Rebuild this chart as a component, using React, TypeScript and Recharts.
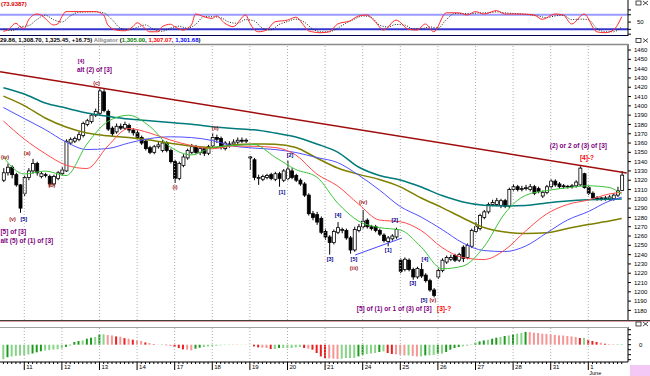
import {
  Bar,
  Cell,
  ComposedChart,
  Line,
  ReferenceDot,
  ReferenceLine,
  XAxis,
  YAxis,
} from "recharts";

const FONT = "'Liberation Sans', Arial, sans-serif";
const X_DOMAIN: [number, number] = [-0.81, 149.5];

// one trading day = 9 bars, first full day starts at bar 5
const dayLabels = ["11", "12", "13", "14", "17", "18", "19", "20", "21", "24", "25", "26", "27", "28", "31", "1"];
const dayStarts = dayLabels.map((_, k) => 5 + k * 9);

const priceTicks = [
  1180, 1190, 1200, 1210, 1220, 1230, 1240, 1250, 1260, 1270, 1280, 1290, 1300, 1310, 1320,
  1330, 1340, 1350, 1360, 1370, 1380, 1390, 1400, 1410, 1420, 1430, 1440, 1450, 1460,
];

// open, high, low, close
const candles: number[][] = [
  // prior day
  [1320, 1333, 1318, 1328], [1328, 1338, 1325, 1334], [1334, 1336, 1322, 1326], [1326, 1328, 1313, 1315],
  [1315, 1316, 1285, 1290],
  // 11
  [1306, 1325, 1303, 1323], [1323, 1333, 1320, 1330], [1330, 1343, 1327, 1338], [1338, 1340, 1325, 1328],
  [1324, 1329, 1322, 1327], [1326, 1328, 1323, 1325], [1324, 1326, 1313, 1316], [1316, 1326, 1314, 1324],
  [1322, 1330, 1320, 1328],
  // 12
  [1327, 1334, 1325, 1331], [1330, 1364, 1329, 1362], [1360, 1366, 1358, 1364], [1362, 1367, 1360, 1365],
  [1364, 1372, 1362, 1369], [1368, 1383, 1366, 1381], [1380, 1386, 1378, 1384], [1383, 1392, 1381, 1390],
  [1390, 1397, 1388, 1394],
  // 13
  [1392, 1419, 1390, 1416], [1415, 1418, 1393, 1395], [1394, 1396, 1373, 1375], [1376, 1378, 1367, 1370],
  [1372, 1381, 1370, 1378], [1378, 1381, 1374, 1376], [1376, 1383, 1374, 1380], [1379, 1381, 1371, 1374],
  [1374, 1376, 1368, 1371],
  // 14
  [1371, 1374, 1364, 1366], [1366, 1368, 1358, 1360], [1362, 1364, 1352, 1354], [1355, 1357, 1348, 1350],
  [1350, 1358, 1348, 1356], [1356, 1361, 1354, 1358], [1352, 1363, 1350, 1360], [1360, 1362, 1350, 1352],
  [1352, 1354, 1338, 1340],
  // 17
  [1340, 1342, 1317, 1322], [1322, 1340, 1320, 1338], [1336, 1348, 1334, 1345], [1344, 1354, 1342, 1352],
  [1350, 1359, 1348, 1356], [1356, 1358, 1348, 1350], [1350, 1356, 1347, 1354], [1354, 1356, 1346, 1349],
  [1349, 1358, 1347, 1356],
  // 18
  [1357, 1371, 1355, 1366], [1366, 1369, 1360, 1364], [1365, 1367, 1353, 1356], [1354, 1362, 1352, 1360],
  [1358, 1362, 1355, 1359], [1359, 1364, 1357, 1361], [1361, 1366, 1359, 1363], [1363, 1366, 1360, 1362],
  [1362, 1365, 1360, 1363],
  // 19
  [1345, 1346, 1331, 1344], [1342, 1344, 1320, 1323], [1322, 1326, 1315, 1323], [1321, 1326, 1319, 1324],
  [1323, 1327, 1321, 1325], [1326, 1328, 1320, 1322], [1321, 1329, 1319, 1327], [1327, 1329, 1313, 1322],
  [1320, 1332, 1318, 1330],
  // 20
  [1322, 1341, 1320, 1332], [1330, 1333, 1321, 1323], [1325, 1327, 1318, 1320], [1320, 1322, 1314, 1316],
  [1316, 1318, 1302, 1304], [1304, 1306, 1282, 1284], [1284, 1287, 1277, 1280], [1283, 1286, 1272, 1275],
  [1279, 1281, 1262, 1264],
  // 21
  [1265, 1268, 1256, 1259], [1259, 1261, 1240, 1253], [1253, 1267, 1251, 1265], [1264, 1275, 1262, 1269],
  [1266, 1269, 1263, 1267], [1266, 1268, 1256, 1258], [1258, 1260, 1241, 1245], [1245, 1270, 1243, 1267],
  [1266, 1273, 1264, 1270],
  // 24
  [1270, 1288, 1268, 1276], [1277, 1279, 1268, 1270], [1270, 1272, 1266, 1268], [1270, 1272, 1264, 1266],
  [1266, 1268, 1260, 1262], [1261, 1263, 1253, 1255], [1254, 1260, 1249, 1258], [1257, 1262, 1255, 1260],
  [1259, 1269, 1257, 1267],
  // 25
  [1234, 1236, 1220, 1222], [1224, 1237, 1222, 1235], [1234, 1236, 1222, 1224], [1224, 1226, 1213, 1216],
  [1216, 1227, 1214, 1225], [1224, 1231, 1215, 1217], [1218, 1220, 1210, 1212], [1212, 1214, 1200, 1202],
  [1202, 1204, 1194, 1196],
  // 26
  [1216, 1225, 1214, 1223], [1223, 1236, 1221, 1234], [1232, 1239, 1230, 1237], [1235, 1240, 1233, 1237],
  [1239, 1241, 1232, 1234], [1234, 1242, 1232, 1240], [1248, 1250, 1232, 1236], [1237, 1252, 1235, 1250],
  [1249, 1268, 1247, 1266],
  // 27
  [1265, 1275, 1263, 1270], [1268, 1284, 1266, 1282], [1280, 1288, 1278, 1286], [1286, 1296, 1284, 1294],
  [1294, 1299, 1292, 1296], [1294, 1301, 1292, 1298], [1293, 1300, 1290, 1298], [1298, 1300, 1290, 1292],
  [1292, 1312, 1290, 1310],
  // 28
  [1310, 1316, 1308, 1313], [1313, 1315, 1308, 1310], [1310, 1314, 1308, 1311], [1311, 1315, 1309, 1312],
  [1310, 1316, 1308, 1313], [1313, 1315, 1304, 1306], [1311, 1313, 1306, 1308], [1303, 1309, 1301, 1307],
  [1307, 1315, 1305, 1313],
  // 31
  [1313, 1321, 1311, 1319], [1319, 1321, 1313, 1315], [1316, 1318, 1311, 1313], [1314, 1316, 1311, 1313],
  [1313, 1315, 1311, 1313.5], [1313, 1316, 1311, 1314], [1314, 1320, 1312, 1318], [1315, 1335, 1314, 1333],
  [1327, 1328, 1311, 1312],
  // 1 June
  [1312, 1314, 1304, 1306], [1306, 1308, 1299, 1301], [1301, 1303, 1298, 1300], [1300, 1302, 1298, 1301],
  [1300, 1303, 1298, 1301], [1300, 1304, 1298, 1302], [1300, 1306, 1298, 1304], [1304, 1313, 1302, 1308.7],
  [1309, 1329.86, 1308.7, 1325.45],
];

// oscillator histogram, one value per bar
const osc = [
  -14.5, -12.5, -11.8, -11.2, -10.8,
  -10.5, -9.8, -8.8, -7.6, -6.6, -5.8, -5.4, -4.9, -4.5,
  -3.7, -2.2, -0.6, 2.7, 3.7, 4.3, 6, 7, 7.7,
  10.3, 10.4, 9.7, 9.3, 8.3, 8, 6.6, 6, 5,
  4.3, 3.7, 2.3, 1.7, 0.5, 0.2, 0.5, -0.5, -1.3,
  -2.3, -3.3, -4.7, -5, -5.7, -4, -3, -2.3, -1.7,
  -1.3, -1, -0.6, -0.4, -0.3, 0.3, -0.3, 0.2, -0.2,
  0.3, -1.7, -2.7, -3, -3.3, -4.3, -4.3, -3.3, -3.3,
  -3.3, -3.3, -2.7, -2.3, -3.3, -4, -5, -8.3, -11.7,
  -13.3, -13.7, -14, -14.3, -14, -13.3, -13.3, -13.2, -11.7,
  -10, -9.3, -8.8, -8.3, -7.3, -6.7, -8.3, -9.3, -9.7,
  -10, -10.7, -10.7, -11.2, -11.7, -11.7, -10.7, -10.6, -10.3,
  -9, -8.9, -7.3, -5, -3.3, -2.3, -1.7, -1, 0.2,
  2, 3.3, 4.3, 5, 6, 7, 7.7, 8.7, 9.3,
  10.3, 11, 11.7, 12.8, 12.6, 12, 11.7, 11, 10.8,
  10.3, 9.7, 9.3, 9.2, 8.7, 8.3, 7.7, 6.7, 6.8,
  5, 3.7, 2.7, 2, 1, 0.6, 0.5, 0.55, 0.6,
];

// moving averages read every 5 bars
const maIdx = [0, 5, 10, 15, 20, 25, 30, 35, 40, 45, 50, 55, 60, 65, 70, 75, 80, 85, 90, 95, 100, 105, 110, 115, 120, 125, 130, 135, 140, 145, 148];
const lips = [1344.9, 1326.7, 1329.9, 1325, 1358.9, 1383.1, 1389.9, 1378, 1355.7, 1347.3, 1355.2, 1357.3, 1358.4, 1344.9, 1331.5, 1323.4, 1295.5, 1276.1, 1269.1, 1266.5, 1248.2, 1224.8, 1227.7, 1248.2, 1284.2, 1303.8, 1308.8, 1311.9, 1314, 1312.2, 1305];
const teeth = [1383.7, 1364.3, 1348.7, 1336.3, 1332.6, 1356.8, 1375.6, 1370.8, 1363.2, 1357.3, 1353.8, 1356.8, 1356.5, 1355.2, 1347.1, 1326.7, 1313.8, 1294.4, 1277.2, 1275.4, 1265.9, 1247.6, 1236.9, 1234.7, 1245, 1265.4, 1283.7, 1293.9, 1298.7, 1305.2, 1307.07];
const jaw = [1398.2, 1386.3, 1374.5, 1361.1, 1353, 1354.1, 1360, 1364.8, 1366.7, 1365.9, 1362.7, 1356.8, 1354.6, 1353, 1349.8, 1344.4, 1339, 1325.6, 1309.5, 1291.7, 1280.4, 1267, 1252.5, 1244.4, 1243.3, 1249.2, 1263.2, 1277.2, 1286.3, 1297.6, 1301.68];
const tealMa = [1419.5, 1412.7, 1403, 1397.6, 1392.3, 1388.8, 1385.8, 1383.9, 1382, 1380.2, 1377.6, 1375.7, 1374.2, 1370.8, 1366.5, 1359, 1350.3, 1334.2, 1325.1, 1320.2, 1312.7, 1303.5, 1296.6, 1293.1, 1292.3, 1292.8, 1295.5, 1297.6, 1298.9, 1299.6, 1299.8];
const oliveMa = [1410.5, 1400.3, 1386.9, 1377.2, 1370.8, 1367.8, 1365.9, 1363.2, 1359.7, 1356.8, 1355.2, 1357.8, 1358.9, 1358.7, 1355.2, 1343.9, 1333.1, 1326.3, 1320.8, 1312.9, 1300.9, 1290.6, 1279.4, 1269.1, 1264.3, 1262.7, 1263.4, 1268.1, 1272.4, 1276.1, 1278.8];

// stochastic [bar, value]
const stochK: [number, number][] = [
  [0, 12], [1, 17], [3, 45], [4, 31], [5, 24], [6, 58], [8, 83], [9, 79], [10, 65], [12, 38], [13, 42], [14, 72],
  [15, 93], [18, 93], [22, 93], [24, 79], [25, 38], [27, 17], [29, 14], [31, 31], [32, 47], [33, 38], [35, 10],
  [37, 10], [38, 31], [40, 41], [41, 31], [43, 17], [45, 38], [46, 83], [48, 72], [50, 65], [51, 75], [53, 45],
  [55, 31], [58, 79], [59, 45], [61, 10], [63, 17], [65, 51], [68, 58], [70, 70], [72, 34], [73, 14], [76, 6],
  [78, 10], [80, 42], [83, 55], [85, 75], [87, 79], [89, 51], [91, 17], [94, 58], [97, 20], [99, 17], [101, 42],
  [103, 10], [106, 88], [109, 88], [111, 79], [113, 93], [115, 83], [118, 97], [120, 83], [124, 83], [127, 79],
  [129, 61], [132, 83], [134, 79], [136, 42], [139, 83], [142, 10], [144, 6], [146, 17], [148, 72],
];
const stochD: [number, number][] = [
  [0, 20], [2, 15], [4, 30], [6, 35], [8, 60], [10, 78], [12, 60], [14, 50], [16, 75], [18, 90], [22, 92],
  [24, 88], [26, 60], [28, 25], [30, 18], [32, 28], [34, 38], [36, 20], [38, 12], [40, 25], [42, 33], [44, 25],
  [46, 40], [48, 72], [50, 72], [52, 68], [54, 50], [56, 45], [58, 60], [60, 55], [62, 25], [64, 18], [66, 40],
  [68, 52], [70, 62], [72, 50], [74, 22], [76, 10], [78, 10], [80, 25], [82, 45], [84, 62], [86, 75], [88, 70],
  [90, 38], [92, 30], [94, 40], [96, 38], [98, 22], [100, 22], [102, 30], [104, 25], [106, 60], [108, 85],
  [110, 85], [112, 85], [114, 88], [116, 88], [118, 92], [120, 88], [124, 83], [128, 75], [130, 68], [132, 75],
  [134, 78], [136, 60], [138, 62], [140, 60], [142, 25], [144, 10], [146, 10], [148, 30],
];

const PURPLE = "#800080";
const NAVY = "#000090";
const BROWN = "#a01818";
const RED = "#ff0000";

// wave annotations anchored at [bar, price]
const waves: { t: string; i: number; p: number; c: string }[] = [
  { t: "(iv)", i: 0.4, p: 1345, c: BROWN },
  { t: "(a)", i: 5.7, p: 1349.2, c: BROWN },
  { t: "(b)", i: 11.6, p: 1314.8, c: BROWN },
  { t: "(c)", i: 22.3, p: 1424.5, c: BROWN },
  { t: "(v)", i: 2.2, p: 1278.3, c: BROWN },
  { t: "[5]", i: 4.9, p: 1278.3, c: NAVY },
  { t: "[4]", i: 18.6, p: 1448.2, c: PURPLE },
  { t: "(i)", i: 41.1, p: 1312.7, c: BROWN },
  { t: "(ii)", i: 50.7, p: 1376.1, c: BROWN },
  { t: "[1]", i: 66.7, p: 1307.3, c: NAVY },
  { t: "[2]", i: 68.6, p: 1347.1, c: NAVY },
  { t: "[3]", i: 78.2, p: 1235.3, c: NAVY },
  { t: "[4]", i: 80.1, p: 1282.6, c: NAVY },
  { t: "[5]", i: 83.9, p: 1235.3, c: NAVY },
  { t: "(iii)", i: 83.9, p: 1225.6, c: BROWN },
  { t: "(iv)", i: 86.1, p: 1296.6, c: BROWN },
  { t: "[1]", i: 92.1, p: 1245, c: NAVY },
  { t: "[2]", i: 93.7, p: 1277.2, c: NAVY },
  { t: "[3]", i: 98, p: 1209.5, c: NAVY },
  { t: "[4]", i: 100.9, p: 1235.3, c: NAVY },
  { t: "[5]", i: 100.7, p: 1191.2, c: NAVY },
  { t: "(v)", i: 102.8, p: 1191.2, c: BROWN },
];
const notes: { t: string; i: number; p: number; c: string }[] = [
  { t: "[5] of [3]", i: -0.7, p: 1265.4, c: PURPLE },
  { t: "alt (5) of (1) of [3]", i: -0.7, p: 1255.7, c: PURPLE },
  { t: "alt (2) of [3]", i: 17.6, p: 1439, c: PURPLE },
  { t: "[5] of (1) or 1 of (3) of [3]", i: 84.6, p: 1182.6, c: PURPLE },
  { t: "[3]-?", i: 103.8, p: 1182.6, c: RED },
  { t: "(2) or 2 of (3) of [3]", i: 130.8, p: 1357.8, c: PURPLE },
  { t: "[4]-?", i: 138, p: 1344.9, c: RED },
];

const rows: Record<string, any>[] = candles.map(([o, h, l, c], i) => ({
  i,
  o,
  h,
  l,
  c,
  range: [l, h],
  osc: osc[i],
}));
maIdx.forEach((idx, k) => {
  rows[idx].lips = lips[k];
  rows[idx].teeth = teeth[k];
  rows[idx].jaw = jaw[k];
  rows[idx].teal = tealMa[k];
  rows[idx].olive = oliveMa[k];
});
stochK.forEach(([idx, v]) => (rows[idx].k = v));
stochD.forEach(([idx, v]) => (rows[idx].d = v));

const fmt = (v: number) =>
  v.toLocaleString("en-US", { minimumFractionDigits: 2, maximumFractionDigits: 2 });

function oscColor(i: number) {
  const d = osc[i] - (i > 0 ? osc[i - 1] : osc[i]);
  if (d >= 0) return Math.abs(d) > 0.9 ? "#1f9a1f" : "#86d486";
  return Math.abs(d) > 0.9 ? "#ea2020" : "#f79595";
}

function Candle(props: any) {
  const { x, y, width, height, payload } = props;
  if (x == null || !payload) return null;
  const top = Math.min(y, y + height);
  const span = Math.abs(height);
  const { o, h, l, c } = payload;
  const toY = (v: number) => (h === l ? top : top + ((h - v) / (h - l)) * span);
  const cx = x + width / 2;
  const bTop = toY(Math.max(o, c));
  const bBot = toY(Math.min(o, c));
  return (
    <g>
      <line x1={cx} x2={cx} y1={top} y2={top + span} stroke="#000" strokeWidth={1} />
      <rect
        x={cx - 1.5}
        y={bTop}
        width={3}
        height={Math.max(bBot - bTop, 0.8)}
        fill={c >= o ? "#fff" : "#000"}
        stroke="#000"
        strokeWidth={0.8}
      />
    </g>
  );
}

function StochTick({ x, y, payload }: any) {
  return (
    <g>
      <line x1={x} x2={x + 3} y1={y} y2={y} stroke="#000" />
      {payload.value === 50 && (
        <text x={x + 9} y={y + 2} fontSize={6} fontFamily={FONT} fill="#000">
          50
        </text>
      )}
    </g>
  );
}

function OscTick({ x, y, payload }: any) {
  return (
    <g>
      <line x1={x} x2={x + 3} y1={y} y2={y} stroke="#000" />
      {payload.value === 0 && (
        <text x={x + 11} y={y + 2} fontSize={6} fontFamily={FONT} fill="#000">
          0
        </text>
      )}
    </g>
  );
}

function DateTick({ x, y, payload }: any) {
  const k = dayStarts.indexOf(payload.value);
  if (k < 0) return <line x1={x} x2={x} y1={y} y2={y + 2} stroke="#000" />;
  return (
    <g>
      <line x1={x} x2={x} y1={y} y2={y + 8} stroke="#000" />
      <text x={x + 2} y={y + 7} fontSize={6} fontFamily={FONT} fill="#000">
        {dayLabels[k]}
      </text>
      {dayLabels[k] === "1" && (
        <text x={x + 1} y={y + 13} fontSize={5.5} fontFamily={FONT} fill="#000">
          June
        </text>
      )}
    </g>
  );
}

const textAt = (t: string, c: string, anchor: string, size: number) => (p: any) => (
  <text
    x={p.cx}
    y={p.cy}
    fill={c}
    fontSize={size}
    fontWeight="bold"
    fontFamily={FONT}
    textAnchor={anchor}
    dominantBaseline="central"
  >
    {t}
  </text>
);

function Icons({ y }: { y: number }) {
  return (
    <g stroke="#000" strokeWidth={0.7} fill="none">
      <rect x={636} y={y} width={5} height={4} />
      <line x1={643} y1={y} x2={648} y2={y + 4} />
      <line x1={648} y1={y} x2={643} y2={y + 4} />
    </g>
  );
}

export default function App() {
  const last = candles[candles.length - 1];
  const prev = candles[candles.length - 2];
  const ohlcText = `${fmt(last[1]).slice(-5)}, ${fmt(last[2])}, ${fmt(last[3])}, +${(last[3] - prev[3]).toFixed(2)}) `;
  const allIdx = rows.map((r) => r.i);

  return (
    <div
      style={{
        position: "fixed",
        left: 0,
        top: 0,
        width: 650,
        height: 376,
        background: "#fff",
        overflow: "hidden",
        fontFamily: FONT,
        zIndex: 10,
      }}
    >
      {/* stochastic */}
      <div style={{ position: "absolute", left: 0, top: 0, width: 650, height: 36, overflow: "hidden" }}>
        <ComposedChart width={650} height={36} data={rows} margin={{ top: 0, right: 0, bottom: 0, left: 0 }}>
          <XAxis dataKey="i" type="number" domain={X_DOMAIN} allowDataOverflow hide />
          <YAxis
            orientation="right"
            width={22}
            domain={[-7.4, 140.7]}
            allowDataOverflow
            ticks={[0, 20, 50, 80, 100]}
            interval={0}
            tickLine={false}
            tickSize={0}
            tickMargin={0}
            tick={<StochTick />}
            axisLine={{ stroke: "#000" }}
          />
          <ReferenceLine y={80} stroke="#9a9aff" strokeWidth={2} />
          <ReferenceLine y={20} stroke="#3434d0" strokeWidth={2} />
          <Line dataKey="d" type="monotone" connectNulls dot={false} activeDot={false} legendType="none" stroke="#222" strokeWidth={1} strokeDasharray="1 1.5" isAnimationActive={false} />
          <Line dataKey="k" type="monotone" connectNulls dot={false} activeDot={false} legendType="none" stroke="#ff2a2a" strokeWidth={1} isAnimationActive={false} />
        </ComposedChart>
      </div>

      {/* price */}
      <div style={{ position: "absolute", left: 0, top: 44 }}>
        <ComposedChart width={650} height={276} data={rows} margin={{ top: 0, right: 0, bottom: 0, left: 0 }}>
          <XAxis dataKey="i" type="number" domain={X_DOMAIN} allowDataOverflow hide />
          <YAxis
            orientation="right"
            width={22}
            domain={[1169.7, 1466.5]}
            allowDataOverflow
            ticks={priceTicks}
            interval={0}
            tickSize={3}
            tickMargin={3}
            tick={{ fontSize: 6, fill: "#000", fontFamily: FONT }}
            tickLine={{ stroke: "#000" }}
            axisLine={{ stroke: "#000" }}
          />
          {dayStarts.map((d) => (
            <ReferenceLine key={d} x={d} stroke="#b0b0b0" strokeDasharray="1 2" />
          ))}
          <ReferenceLine
            segment={[{ x: -0.8, y: 1436.7 }, { x: 149.2, y: 1327.8 }]}
            stroke="#a00c0c"
            strokeWidth={1.5}
            ifOverflow="visible"
          />
          <Line dataKey="olive" type="monotone" connectNulls dot={false} activeDot={false} stroke="#7f7f00" strokeWidth={1.5} isAnimationActive={false} />
          <Line dataKey="teal" type="monotone" connectNulls dot={false} activeDot={false} stroke="#007a7a" strokeWidth={1.5} isAnimationActive={false} />
          <Line dataKey="jaw" type="monotone" connectNulls dot={false} activeDot={false} stroke="#5050ff" strokeWidth={1} isAnimationActive={false} />
          <Line dataKey="teeth" type="monotone" connectNulls dot={false} activeDot={false} stroke="#ff4a4a" strokeWidth={1} isAnimationActive={false} />
          <Line dataKey="lips" type="monotone" connectNulls dot={false} activeDot={false} stroke="#3cc43c" strokeWidth={1} isAnimationActive={false} />
          <Bar dataKey="range" barSize={3} shape={<Candle />} isAnimationActive={false} />
          <ReferenceLine
            segment={[{ x: 84.2, y: 1239.6 }, { x: 95.4, y: 1257.8 }]}
            stroke="#4848ff"
            strokeWidth={1}
          />
          {waves.map((w, n) => (
            <ReferenceDot key={"w" + n} x={w.i} y={w.p} r={0} ifOverflow="visible" shape={textAt(w.t, w.c, "middle", 5.5)} />
          ))}
          {notes.map((w, n) => (
            <ReferenceDot key={"n" + n} x={w.i} y={w.p} r={0} ifOverflow="visible" shape={textAt(w.t, w.c, "start", 6.5)} />
          ))}
        </ComposedChart>
      </div>

      {/* oscillator + dates */}
      <div style={{ position: "absolute", left: 0, top: 327 }}>
        <ComposedChart width={650} height={49} data={rows} margin={{ top: 0, right: 0, bottom: 0, left: 0 }}>
          <XAxis
            dataKey="i"
            type="number"
            domain={X_DOMAIN}
            allowDataOverflow
            height={14}
            ticks={allIdx}
            interval={0}
            tickLine={false}
            tickSize={0}
            tickMargin={0}
            tick={<DateTick />}
            axisLine={{ stroke: "#000" }}
          />
          <YAxis
            orientation="right"
            width={22}
            domain={[-17.3, 17.7]}
            allowDataOverflow
            ticks={[-15, -10, -5, 0, 5, 10, 15]}
            interval={0}
            tickLine={false}
            tickSize={0}
            tickMargin={0}
            tick={<OscTick />}
            axisLine={{ stroke: "#000" }}
          />
          {dayStarts.map((d) => (
            <ReferenceLine key={d} x={d} stroke="#b0b0b0" strokeDasharray="1 2" />
          ))}
          <Bar dataKey="osc" barSize={2} isAnimationActive={false}>
            {rows.map((r) => (
              <Cell key={r.i} fill={oscColor(r.i)} />
            ))}
          </Bar>
        </ComposedChart>
      </div>

      {/* frame, header texts */}
      <svg
        width={650}
        height={376}
        style={{ position: "absolute", left: 0, top: 0, pointerEvents: "none" }}
      >
        <rect x={0} y={0} width={30} height={8} fill="#fff" />
        <text x={1} y={6} fontSize={6} fontWeight="bold" fill="#e00000" fontFamily={FONT}>
          (73.9387)
        </text>
        <Icons y={1} />
        <line x1={0} x2={628} y1={35.5} y2={35.5} stroke="#000050" strokeWidth={1} />
        <text x={0} y={42} fontSize={6} fontWeight="bold" fontFamily={FONT}>
          <tspan fill="#000">{ohlcText}</tspan>
          <tspan fill="#8a8a8a">Alligator </tspan>
          <tspan fill="#000">(</tspan>
          <tspan fill="#008000">{fmt(lips[lips.length - 1])}</tspan>
          <tspan fill="#000">, </tspan>
          <tspan fill="#ff0000">{fmt(teeth[teeth.length - 1])}</tspan>
          <tspan fill="#000">, </tspan>
          <tspan fill="#0000ff">{fmt(jaw[jaw.length - 1])}</tspan>
          <tspan fill="#000">)</tspan>
        </text>
        <Icons y={38.5} />
        <line x1={0} x2={628} y1={44.5} y2={44.5} stroke="#8a8a8a" strokeWidth={1.5} />
        <line x1={0} x2={650} y1={320.5} y2={320.5} stroke="#404040" strokeWidth={1} />
        <line x1={0} x2={650} y1={321.5} y2={321.5} stroke="#d8a0a0" strokeWidth={1} />
        <Icons y={322} />
        <line x1={0} x2={628} y1={327.5} y2={327.5} stroke="#a0a0a0" strokeWidth={1} />
        <rect x={630} y={365} width={20} height={11} fill="#f4c8f4" />
      </svg>
    </div>
  );
}
